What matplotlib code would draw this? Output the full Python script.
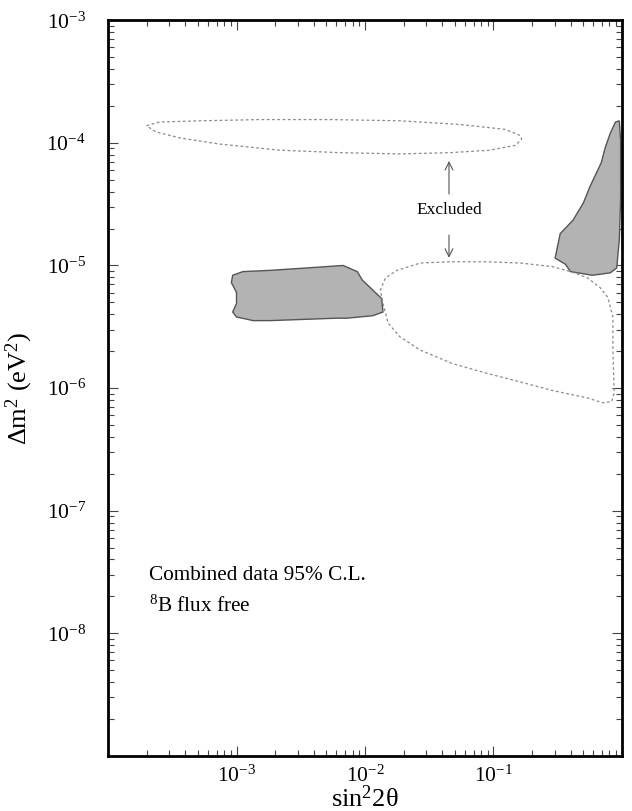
import numpy as np
import matplotlib
matplotlib.use("Agg")
import matplotlib.pyplot as plt
from matplotlib.ticker import FixedLocator, LogLocator, NullFormatter, FuncFormatter

plt.rcParams['font.family'] = 'Liberation Serif'
plt.rcParams['mathtext.fontset'] = 'custom'
plt.rcParams['mathtext.rm'] = 'Liberation Serif'
plt.rcParams['mathtext.it'] = 'Liberation Serif:italic'

# contours, log10(sin^2 2theta), log10(dm^2 / eV^2)
upper_excl_x = [-3.70, -3.60, -3.28, -2.82, -2.27, -1.73, -1.26, -0.91, -0.79, -0.78,
                -0.83, -1.03, -1.34, -1.73, -2.19, -2.66, -3.13, -3.44, -3.63]
upper_excl_y = [-3.86, -3.83, -3.82, -3.81, -3.81, -3.82, -3.85, -3.89, -3.94, -3.97,
                -4.02, -4.06, -4.08, -4.09, -4.08, -4.06, -4.01, -3.96, -3.91]

lower_excl_x = [-1.34, -1.57, -1.75, -1.84, -1.88, -1.86, -1.82, -1.73, -1.57, -1.32,
                -1.05, -0.79, -0.54, -0.27, -0.15, -0.08, -0.06, -0.07, -0.07, -0.11,
                -0.17, -0.27, -0.40, -0.54, -0.79, -1.05]
lower_excl_y = [-4.97, -4.98, -5.04, -5.10, -5.20, -5.31, -5.47, -5.58, -5.69, -5.80,
                -5.88, -5.95, -6.02, -6.08, -6.12, -6.11, -6.04, -5.69, -5.42, -5.26,
                -5.18, -5.10, -5.05, -5.01, -4.98, -4.97]

sma_x = [-3.03, -2.95, -2.74, -2.45, -2.17, -2.06, -2.02, -1.94, -1.87, -1.86,
         -1.94, -2.14, -2.22, -2.48, -2.74, -2.87, -3.00, -3.03, -3.00, -3.00, -3.04]
sma_y = [-5.08, -5.05, -5.04, -5.02, -5.00, -5.05, -5.12, -5.20, -5.27, -5.38,
         -5.41, -5.43, -5.43, -5.44, -5.45, -5.45, -5.42, -5.38, -5.31, -5.22, -5.14]

lma_x = [-0.05, -0.02, -0.01, -0.01, -0.02, -0.03, -0.04, -0.09, -0.23, -0.40,
         -0.44, -0.52, -0.48, -0.38, -0.30, -0.25, -0.16, -0.13, -0.09]
lma_y = [-3.83, -3.82, -3.98, -4.47, -4.79, -4.90, -5.02, -5.06, -5.08, -5.05,
         -4.99, -4.94, -4.74, -4.63, -4.49, -4.36, -4.16, -4.04, -3.92]

x_ticks = [1e-3, 1e-2, 1e-1]
y_ticks = [1e-8, 1e-7, 1e-6, 1e-5, 1e-4, 1e-3]

fig = plt.figure(figsize=(6.32, 8.11), dpi=100)
ax = fig.add_axes([0.171, 0.068, 0.813, 0.907])
ax.set_xscale('log')
ax.set_yscale('log')
ax.set_xlim(1e-4, 1)
ax.set_ylim(1e-9, 1e-3)


def closed(xs, ys):
    xs = np.append(xs, xs[0])
    ys = np.append(ys, ys[0])
    return 10 ** xs, 10 ** ys


# allowed regions
for xs, ys in [(sma_x, sma_y), (lma_x, lma_y)]:
    px, py = closed(xs, ys)
    ax.fill(px, py, facecolor='#b3b3b3', edgecolor='#555555', lw=1.0, zorder=2)

# excluded regions
for xs, ys in [(upper_excl_x, upper_excl_y), (lower_excl_x, lower_excl_y)]:
    px, py = closed(xs, ys)
    ax.plot(px, py, color='#8a8a8a', lw=0.9, ls=(0, (2.2, 2)), zorder=3)

# label with arrows
xa = 10 ** -1.346
ax.text(xa, 10 ** -4.55, "Excluded", ha='center', va='center', fontsize=12.5)
arr = dict(arrowstyle='->', color='#555555', lw=0.8, mutation_scale=14)
ax.annotate("", xy=(xa, 10 ** -4.125), xytext=(xa, 10 ** -4.44), arrowprops=arr)
ax.annotate("", xy=(xa, 10 ** -4.96), xytext=(xa, 10 ** -4.73), arrowprops=arr)

ax.text(0.08, 0.245, "Combined data 95% C.L.", transform=ax.transAxes,
        fontsize=15.3, ha='left', va='center')
ax.text(0.08, 0.204, r"$^{8}$B flux free", transform=ax.transAxes,
        fontsize=15.3, ha='left', va='center')

# ticks
fmt = FuncFormatter(lambda v, p: r"$10^{%d}$" % int(round(np.log10(v))))
ax.xaxis.set_major_locator(FixedLocator(x_ticks))
ax.yaxis.set_major_locator(FixedLocator(y_ticks))
ax.xaxis.set_major_formatter(fmt)
ax.yaxis.set_major_formatter(fmt)
for a in (ax.xaxis, ax.yaxis):
    a.set_minor_locator(LogLocator(base=10, subs=np.arange(2, 10), numticks=20))
    a.set_minor_formatter(NullFormatter())
ax.tick_params(which='both', direction='in', top=True, right=True, width=0.8,
               color='#444444')
ax.tick_params(which='major', length=7, labelsize=15.5)
ax.tick_params(which='minor', length=4)
ax.tick_params(axis='y', which='major', pad=16)
ax.tick_params(axis='x', which='major', pad=7)

for s in ax.spines.values():
    s.set_linewidth(2)

ax.set_xlabel(r"sin$^{2}$2θ", fontsize=19, labelpad=-1)
ax.set_ylabel(r"Δm$^{2}$ (eV$^{2}$)", fontsize=19, labelpad=8)

fig.savefig("out.png", dpi=100)
